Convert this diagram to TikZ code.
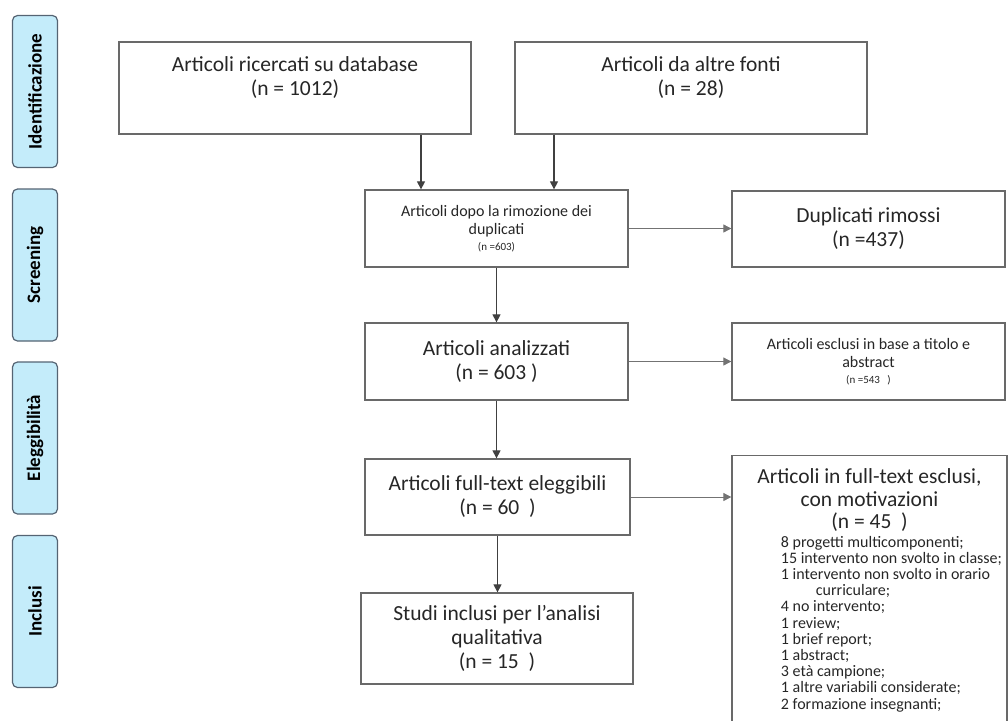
\documentclass[tikz,border=0pt]{standalone}
\usepackage{fontspec}
\setmainfont{Carlito}
\setsansfont{Carlito}
\usepackage[dvipsnames]{xcolor}
\usetikzlibrary{arrows.meta, positioning}
\tikzset{every picture/.style={/utils/exec={\sffamily}}}
\definecolor{phaseblue}{RGB}{196,236,250}
\definecolor{phaseedge}{RGB}{85,100,115}
\definecolor{boxedge}{RGB}{105,105,105}

\begin{document}
\begin{tikzpicture}[x=1pt, y=-1pt, >={Triangle[length=8pt, width=8pt]},
    phase/.style={rectangle, rounded corners=5pt, draw=phaseedge, line width=1.2pt, fill=phaseblue, rotate=90,
        minimum width=152pt, minimum height=45pt, inner sep=0pt, font=\bfseries\fontsize{19}{22}\selectfont},
    box/.style={rectangle, draw=boxedge, line width=1.3pt, align=center, inner sep=0pt, text=black!85,
        font=\fontsize{21.5}{24}\selectfont},
    smallbox/.style={box, font=\fontsize{16}{18.5}\selectfont},
    down/.style={->, draw=black!75, line width=1.2pt},
    across/.style={->, draw=black!55, line width=0.8pt}]
        \useasboundingbox (0,0) rectangle (1008,720);

        % Phases
        \node[phase] (ident) at (35, 91.5) {Identificazione};
        \node[phase] (screen) at (35, 265) {Screening};
        \node[phase] (elig) at (35, 438) {Eleggibilità};
        \node[phase] (incl) at (35, 611.5) {Inclusi};

        % Nodes
        \node[box, minimum width=352pt, minimum height=92pt] (db) at (295, 88) {Articoli ricercati su database\\(n = 1012)\\\mbox{}};
        \node[box, minimum width=352pt, minimum height=92pt] (altre) at (691, 88) {Articoli da altre fonti\\(n = 28)\\\mbox{}};
        \node[smallbox, minimum width=263pt, minimum height=77pt] (dopo) at (496.5, 228.5) {Articoli dopo la rimozione dei\\duplicati\\[-3pt]{\fontsize{11}{13}\selectfont (n =603)}};
        \node[box, minimum width=273pt, minimum height=76pt] (dupl) at (868.5, 229) {Duplicati rimossi\\(n =437)};
        \node[box, minimum width=263pt, minimum height=77pt] (anal) at (496.5, 361.5) {Articoli analizzati\\(n = 603 )};
        \node[smallbox, minimum width=273pt, minimum height=77pt] (titolo) at (868.5, 361.5) {Articoli esclusi in base a titolo e\\abstract\\[-3pt]{\fontsize{11}{13}\selectfont (n =543~~~)}};
        \node[box, minimum width=265pt, minimum height=76pt] (full) at (497.5, 497) {Articoli full-text eleggibili\\(n = 60~~)};
        \node[box, minimum width=272pt, minimum height=91pt] (studi) at (497, 638.5) {Studi inclusi per l’analisi\\qualitativa\\(n = 15~~)};
        \node[box, anchor=north, text width=275pt, align=flush center, inner ysep=13pt, font=\fontsize{21.5}{22.5}\selectfont] (motiv) at (869.5, 455) {Articoli in full-text esclusi,\\con motivazioni\\(n = 45~~)\\[-4pt]
            \hspace*{44pt}{\fontsize{16}{16.2}\selectfont\begin{tabular}[t]{@{}l@{}}
            8 progetti multicomponenti;\\
            15 intervento non svolto in classe;\\
            1 intervento non svolto in orario\\
            \hspace*{35pt}curriculare;\\
            4 no intervento;\\
            1 review;\\
            1 brief report;\\
            1 abstract;\\
            3 età campione;\\
            1 altre variabili considerate;\\
            2 formazione insegnanti;
            \end{tabular}}\hspace*{\fill}\\[40pt]\mbox{}};

        % Directed edges
        \coordinate (inA) at ([xshift=-75.5pt]dopo.north);
        \coordinate (inB) at ([xshift=57.5pt]dopo.north);
        \draw[down] (db.south -| inA) -- (inA);
        \draw[down] (altre.south -| inB) -- (inB);
        \draw[across] (dopo.east) -- (dopo.east -| dupl.west);
        \draw[down] (dopo.south) -- (dopo.south |- anal.north);
        \draw[across] (anal.east) -- (anal.east -| titolo.west);
        \draw[down] (anal.south) -- (anal.south |- full.north);
        \draw[across] (full.east) -- (full.east -| motiv.west);
        \draw[down] (full.south) -- (full.south |- studi.north);
    \end{tikzpicture}
\end{document}
